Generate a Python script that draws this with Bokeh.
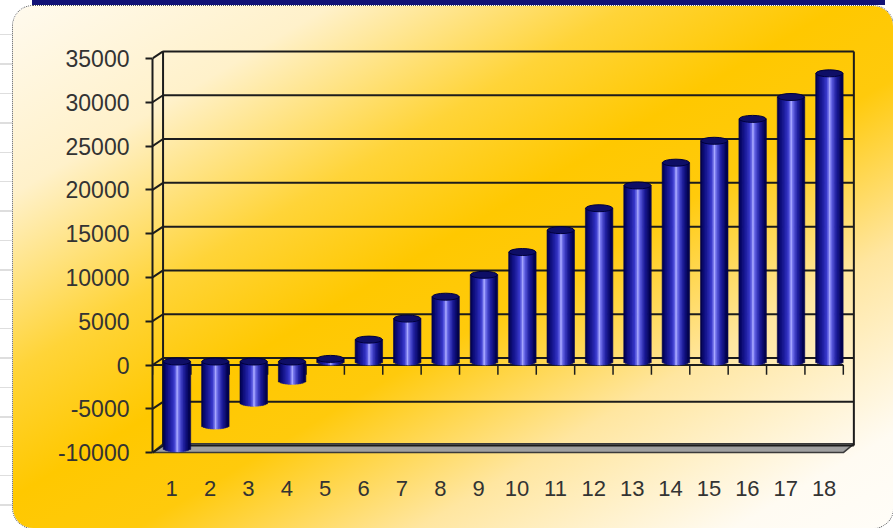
import numpy as np
from bokeh.plotting import figure
from bokeh.models import Range1d, FixedTicker, GlobalInlineStyleSheet
from bokeh.embed import file_html
from bokeh.resources import INLINE

# ---- data -------------------------------------------------------------
categories = [str(i) for i in range(1, 19)]
values = [-9900, -7300, -4700, -2200, 300, 2500, 4900, 7400, 9900,
          12500, 15000, 17500, 20100, 22700, 25200, 27700, 30200, 32900]
y_ticks = [-10000, -5000, 0, 5000, 10000, 15000, 20000, 25000, 30000, 35000]
y_tick_labels = ["-10000", "-5000", "0", "5000", "10000", "15000",
                 "20000", "25000", "30000", "35000"]

# ---- 3-D look constants (data units) ----------------------------------
DX, DY = 0.275, 800          # offset of the back wall relative to the front
BAR_W = 0.70                 # cylinder diameter in category units
CAP_H = 800                  # vertical size of the elliptical caps
N_STRIPS = 16
LINE = "#1c1c1c"

x_pos = np.arange(1, len(categories) + 1, dtype=float)
vals = np.array(values, dtype=float)
x_lo, x_hi = 0.5, len(categories) + 0.5
y_lo, y_hi = y_ticks[0], y_ticks[-1]

p = figure(frame_width=710, frame_height=420,
           x_range=Range1d(0.5, 19.0), y_range=Range1d(-10900, 37050),
           output_backend="svg", toolbar_location=None,
           min_border_left=139, min_border_right=31,
           min_border_top=34, min_border_bottom=68,
           background_fill_color=None, border_fill_color=None,
           outline_line_color=None)

p.styles = {
    "margin-left": "13px",
    "margin-top": "6px",
    "border-radius": "20px",
    "outline": "1px dotted #555555",
    "background": ("linear-gradient(to bottom right, #fffaee 0%, #fff1ca 18%, "
                   "#ffd438 35%, #ffc800 47%, #ffca0c 57%, #ffe6a0 73%, "
                   "#fffbf2 91%, #fffdf8 100%)"),
}
p.stylesheets = [GlobalInlineStyleSheet(css=(
    "body { background: "
    "linear-gradient(#121276, #121276) 32px 0 / 853px 5px no-repeat, "
    "repeating-linear-gradient(to bottom, #ffffff 0px, #ffffff 28px, "
    "#dedede 28px, #dedede 29.4px) 0 6px / 12px 100% no-repeat, #ffffff; }"
))]

p.xgrid.visible = False
p.ygrid.visible = False

# ---- value axis (front edge) -------------------------------------------
ya = p.yaxis[0]
ya.ticker = FixedTicker(ticks=y_ticks)
ya.major_label_overrides = {t: s for t, s in zip(y_ticks, y_tick_labels)}
ya.bounds = (y_lo, y_hi)
ya.axis_line_color = LINE
ya.axis_line_width = 2
ya.major_tick_line_color = LINE
ya.major_tick_line_width = 2
ya.major_tick_out = 7
ya.major_tick_in = 0
ya.minor_tick_line_color = None
ya.major_label_standoff = 16
ya.major_label_text_font = "Liberation Sans"
ya.major_label_text_font_size = "23px"
ya.major_label_text_color = "#333333"

# ---- category labels ---------------------------------------------------
xa = p.xaxis[0]
xa.ticker = FixedTicker(ticks=list(x_pos))
xa.major_label_overrides = {float(v): c for v, c in zip(x_pos, categories)}
xa.axis_line_color = None
xa.major_tick_line_color = None
xa.minor_tick_line_color = None
xa.major_tick_out = 0
xa.major_tick_in = 0
xa.major_label_standoff = 20
xa.major_label_text_font = "Liberation Sans"
xa.major_label_text_font_size = "22px"
xa.major_label_text_color = "#333333"

# ---- floor slab --------------------------------------------------------
p.patch([x_lo, x_hi, x_hi + DX, x_lo + DX],
        [y_lo, y_lo, y_lo + DY + 200, y_lo + DY + 200],
        fill_color="#a0a0a0", line_color="#3a3a3a", line_width=1.5)

# ---- back wall gridlines, edges and side-wall hooks --------------------
ticks = np.array(y_ticks, dtype=float)
p.segment(x0=[x_lo + DX] * len(ticks), y0=ticks + DY,
          x1=[x_hi + DX] * len(ticks), y1=ticks + DY,
          line_color=LINE, line_width=2)
p.segment(x0=[x_lo + DX, x_hi + DX], y0=[y_lo + DY, y_lo + DY],
          x1=[x_lo + DX, x_hi + DX], y1=[y_hi + DY, y_hi + DY],
          line_color=LINE, line_width=2)
p.segment(x0=[x_lo] * len(ticks), y0=ticks,
          x1=[x_lo + DX] * len(ticks), y1=ticks + DY,
          line_color=LINE, line_width=2)

# ---- category axis at zero with boundary ticks --------------------------
bounds_x = np.arange(x_lo, x_hi + 0.01, 1.0)
p.segment(x0=[x_lo], y0=[0], x1=[x_hi], y1=[0], line_color=LINE, line_width=2)
p.segment(x0=bounds_x, y0=[0] * len(bounds_x), x1=bounds_x,
          y1=[-1100] * len(bounds_x), line_color=LINE, line_width=1.5)

# ---- cylinders -----------------------------------------------------------
stops = [(0.00, (0, 0, 64)), (0.12, (12, 12, 118)), (0.30, (34, 34, 168)),
         (0.44, (62, 62, 212)), (0.53, (168, 168, 255)), (0.61, (92, 92, 226)),
         (0.77, (32, 32, 160)), (0.91, (10, 10, 108)), (1.00, (0, 0, 64))]


def shade(t):
    for (t0, c0), (t1, c1) in zip(stops[:-1], stops[1:]):
        if t0 <= t <= t1:
            f = (t - t0) / (t1 - t0)
            r, g, b = (int(round(a + (bb - a) * f)) for a, bb in zip(c0, c1))
            return f"#{r:02x}{g:02x}{b:02x}"
    return "#000040"


cx = x_pos + DX / 2
tops = np.maximum(vals, 0) + DY / 2
bottoms = np.minimum(vals, 0) + DY / 2
sw = BAR_W / N_STRIPS
for k in range(N_STRIPS):
    t = (k + 0.5) / N_STRIPS
    u = 2 * t - 1
    arc = (CAP_H / 2) * np.sqrt(max(0.0, 1 - u * u))
    c = shade(t)
    p.vbar(x=cx - BAR_W / 2 + (k + 0.5) * sw, width=sw * 1.35,
           bottom=bottoms - arc, top=tops,
           fill_color=c, line_color=c, line_width=0.6)

p.ellipse(x=cx, y=tops, width=BAR_W, height=CAP_H,
          fill_color="#0e0e66", line_color="#00003a", line_width=1)

open("out.html", "w").write(file_html(p, INLINE))
